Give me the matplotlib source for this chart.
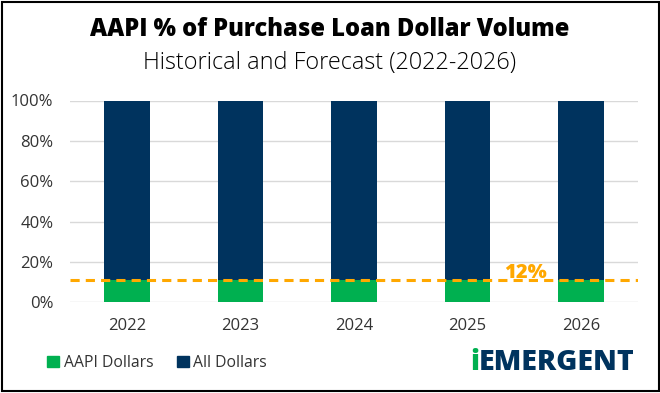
import numpy as np
import matplotlib.pyplot as plt
from matplotlib.patches import Rectangle, Patch

plt.rcParams['font.family'] = ['Open Sans', 'DejaVu Sans']

# data
years = ['2022', '2023', '2024', '2025', '2026']
aapi_dollars = [11, 11, 11, 11, 11]
all_dollars = [89, 89, 89, 89, 89]
avg_share = 11
avg_label = '12%'

green = '#00B050'
navy = '#00335E'
orange = '#FFA800'

fig = plt.figure(figsize=(6.6, 3.93), dpi=100)
ax = fig.add_axes([70 / 660, 1 - 302.3 / 393, 568 / 660, 201.8 / 393])

x = np.arange(len(years))
ax.bar(x, aapi_dollars, width=0.4, color=green, zorder=2, label='AAPI Dollars')
ax.bar(x, all_dollars, width=0.4, bottom=aapi_dollars, color=navy, zorder=2, label='All Dollars')

ax.axhline(avg_share, color=orange, lw=2.2, ls=(0, (3, 2)), zorder=3)
ax.text(3.51, avg_share + 3.5, avg_label, color=orange, fontsize=14.5, fontweight='heavy',
        ha='center', va='center', zorder=4)

ax.set_xlim(-0.5, 4.5)
ax.set_ylim(0, 100)
ax.set_yticks(range(0, 101, 20))
ax.set_yticklabels([f'{v}%' for v in range(0, 101, 20)])
ax.set_xticks(x)
ax.set_xticklabels(years)
ax.tick_params(length=0, labelsize=12, colors='#333333')
ax.tick_params(axis='y', pad=12)
ax.tick_params(axis='x', pad=11)
ax.grid(axis='y', color='#D9D9D9', lw=1, zorder=0)
for s in ax.spines.values():
    s.set_visible(False)

fig.text(0.5, 1 - 30 / 393, 'AAPI % of Purchase Loan Dollar Volume', ha='center', va='center',
         fontsize=17, fontweight='heavy', color='black')
fig.text(0.5, 1 - 63 / 393, 'Historical and Forecast (2022-2026)', ha='center', va='center',
         fontsize=16.8, fontweight='light', color='black')

handles = [Patch(color=green, label='AAPI Dollars'), Patch(color=navy, label='All Dollars')]
fig.legend(handles=handles, loc='center left', bbox_to_anchor=(33 / 660, 1 - 363 / 393),
           ncol=2, frameon=False, fontsize=11.3, handlelength=0.75, handleheight=0.75,
           handletextpad=0.3, columnspacing=1.5, labelcolor='#333333')

# logo
fig.text(470 / 660, 1 - 362 / 393, 'i', color=green, fontsize=20, fontweight='heavy',
         ha='left', va='center')
fig.text(479 / 660, 1 - 362 / 393, 'EMERGENT', color=navy, fontsize=20.5, fontweight='heavy',
         ha='left', va='center')

fig.patches.append(Rectangle((1.5 / 660, 2 / 393), 657 / 660, 389.5 / 393, transform=fig.transFigure,
                             fill=False, edgecolor='black', lw=1.5))

fig.savefig('out.png', dpi=100)
